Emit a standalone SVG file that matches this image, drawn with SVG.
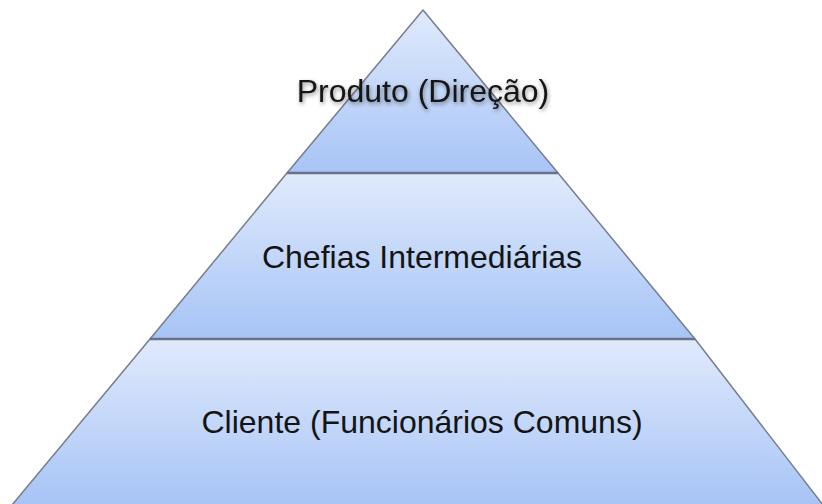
<svg xmlns="http://www.w3.org/2000/svg" width="822" height="504" viewBox="0 0 822 504">
<style>
.tier{stroke:#767e8c;stroke-width:1.5;stroke-linejoin:round}
.div{stroke:#68738a;stroke-width:2.5}
.lbl{font-family:"Liberation Sans",Arial,sans-serif;font-size:32px;fill:#141414;text-anchor:middle}
</style>
<defs>
<linearGradient id="g" x1="0" y1="0" x2="0" y2="1">
<stop offset="0" stop-color="#e0eafc"/>
<stop offset="1" stop-color="#a7c4f6"/>
</linearGradient>
<filter id="sh" x="-10%" y="-30%" width="120%" height="160%">
<feGaussianBlur in="SourceAlpha" stdDeviation="2"/>
<feOffset dx="1" dy="2" result="b"/>
<feComponentTransfer><feFuncA type="linear" slope="0.45"/></feComponentTransfer>
<feMerge><feMergeNode/><feMergeNode in="SourceGraphic"/></feMerge>
</filter>
</defs>
<rect width="822" height="504" fill="#ffffff"/>
<g id="tier-bottom">
<polygon class="tier" fill="url(#g)" points="150,339 695,339 823,505 12,505"/>
<text class="lbl" x="422" y="433">Cliente (Funcionários Comuns)</text>
</g>
<g id="tier-middle">
<polygon class="tier" fill="url(#g)" points="287,173 558,173 695,339 150,339"/>
<text class="lbl" x="422" y="268">Chefias Intermediárias</text>
</g>
<g id="tier-top">
<polygon class="tier" fill="url(#g)" points="423,10 558,173 287,173"/>
<text class="lbl" x="423" y="102" filter="url(#sh)">Produto (Direção)</text>
</g>
<g id="connectors">
<line class="div" x1="287" y1="173" x2="558" y2="173"/>
<line class="div" x1="150" y1="339" x2="695" y2="339"/>
</g>
</svg>
